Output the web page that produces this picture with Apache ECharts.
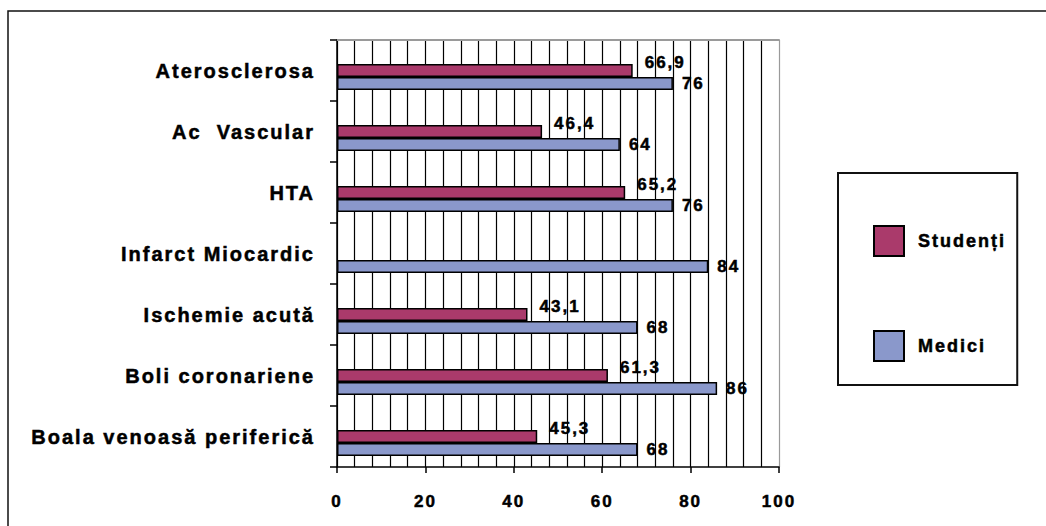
<!DOCTYPE html>
<html>
<head>
<meta charset="utf-8">
<script src="https://cdn.jsdelivr.net/npm/echarts@6/dist/echarts.min.js"></script>
<style>
  html, body { margin: 0; padding: 0; background: #fff; }
  #chart { width: 1046px; height: 526px; }
  #chart text { letter-spacing: 2px; white-space: pre; }
</style>
</head>
<body>
<div id="chart"></div>
<script>
// Category labels (top to bottom) and the two series
const categories = [
  'Aterosclerosa',
  'Ac  Vascular',
  'HTA',
  'Infarct Miocardic',
  'Ischemie acută',
  'Boli coronariene',
  'Boala venoasă periferică'
];
const studenti = [66.9, 46.4, 65.2, null, 43.1, 61.3, 45.3];
const medici = [76, 64, 76, 84, 68, 86, 68];
const xTicks = [0, 20, 40, 60, 80, 100];

// empty slot that keeps the bar pair in the lower part of each band
const slot = categories.map(() => null);

const FONT = "'Liberation Sans', Arial, sans-serif";
const fmt = v => String(v).replace('.', ',');
// slightly heavier strokes for all bold text
const heavy = { textBorderColor: '#000', textBorderWidth: 0.5 };

// vertical grid every 4 units; the line at 100 is the grey plot border
const gridStep = 4;
const gridColors = [];
for (let v = 0; v <= 100; v += gridStep) gridColors.push(v === 100 ? '#9a9a9a' : '#000');

const chart = echarts.init(document.getElementById('chart'), null, { renderer: 'svg' });

chart.setOption({
  animation: false,
  backgroundColor: '#fff',
  graphic: [{
    type: 'rect',
    shape: { x: 8, y: 11, width: 1200, height: 700 },
    style: { fill: 'none', stroke: '#111', lineWidth: 1.5 },
    silent: true,
    z: -10
  }],
  grid: { left: 337, top: 40, width: 442, height: 427, containLabel: false },
  legend: {
    data: ['Studenți', 'Medici'],
    orient: 'vertical',
    left: 838,
    top: 173,
    itemWidth: 30,
    itemHeight: 30,
    itemGap: 73,
    padding: [52, 27, 23, 35],
    borderColor: '#111',
    borderWidth: 2,
    icon: 'rect',
    textStyle: Object.assign({ color: '#000', fontWeight: 'bold', fontSize: 18, fontFamily: FONT, padding: [0, 0, 0, 9] }, heavy)
  },
  xAxis: [{
    type: 'value',
    min: xTicks[0],
    max: xTicks[xTicks.length - 1],
    interval: xTicks[1] - xTicks[0],
    position: 'bottom',
    axisLine: { show: true, lineStyle: { color: '#000', width: 1.5 } },
    axisTick: { show: true, length: 6, lineStyle: { color: '#000', width: 1.5 } },
    axisLabel: Object.assign({ color: '#000', fontWeight: 'bold', fontSize: 17, fontFamily: FONT, margin: 26 }, heavy),
    splitLine: { show: false }
  }, {
    type: 'value',
    min: 0,
    max: 100,
    interval: gridStep,
    position: 'top',
    axisLine: { show: true, lineStyle: { color: '#9a9a9a', width: 2 } },
    axisTick: { show: false },
    axisLabel: { show: false },
    splitLine: { show: true, lineStyle: { color: gridColors, width: 1.2 } }
  }],
  yAxis: {
    type: 'category',
    data: categories,
    inverse: true,
    axisLine: { show: true, lineStyle: { color: '#000', width: 1.5 } },
    axisTick: { show: true, length: 7, lineStyle: { color: '#000', width: 1.5 } },
    axisLabel: Object.assign({
      color: '#000', fontWeight: 'bold', fontSize: 20, fontFamily: FONT,
      margin: 22, padding: [6, 0, 0, 0]
    }, heavy),
    splitLine: { show: false }
  },
  series: [{
    type: 'bar',
    name: 'slot',
    data: slot,
    barWidth: 13,
    barGap: '0%',
    silent: true,
    xAxisIndex: 0
  }, {
    type: 'bar',
    name: 'Studenți',
    data: studenti,
    barWidth: 13,
    barGap: '0%',
    xAxisIndex: 0,
    itemStyle: { color: '#AA3A6B', borderColor: '#000', borderWidth: 1.5 },
    label: Object.assign({
      show: true, position: 'right', distance: 12, offset: [0, -8],
      color: '#000', fontWeight: 'bold', fontSize: 17, fontFamily: FONT,
      formatter: p => fmt(p.value)
    }, heavy)
  }, {
    type: 'bar',
    name: 'Medici',
    data: medici,
    barWidth: 13,
    barGap: '0%',
    xAxisIndex: 0,
    itemStyle: { color: '#8A98CB', borderColor: '#000', borderWidth: 1.5 },
    label: Object.assign({
      show: true, position: 'right', distance: 9,
      color: '#000', fontWeight: 'bold', fontSize: 17, fontFamily: FONT,
      formatter: p => fmt(p.value)
    }, heavy)
  }]
});
</script>
</body>
</html>
